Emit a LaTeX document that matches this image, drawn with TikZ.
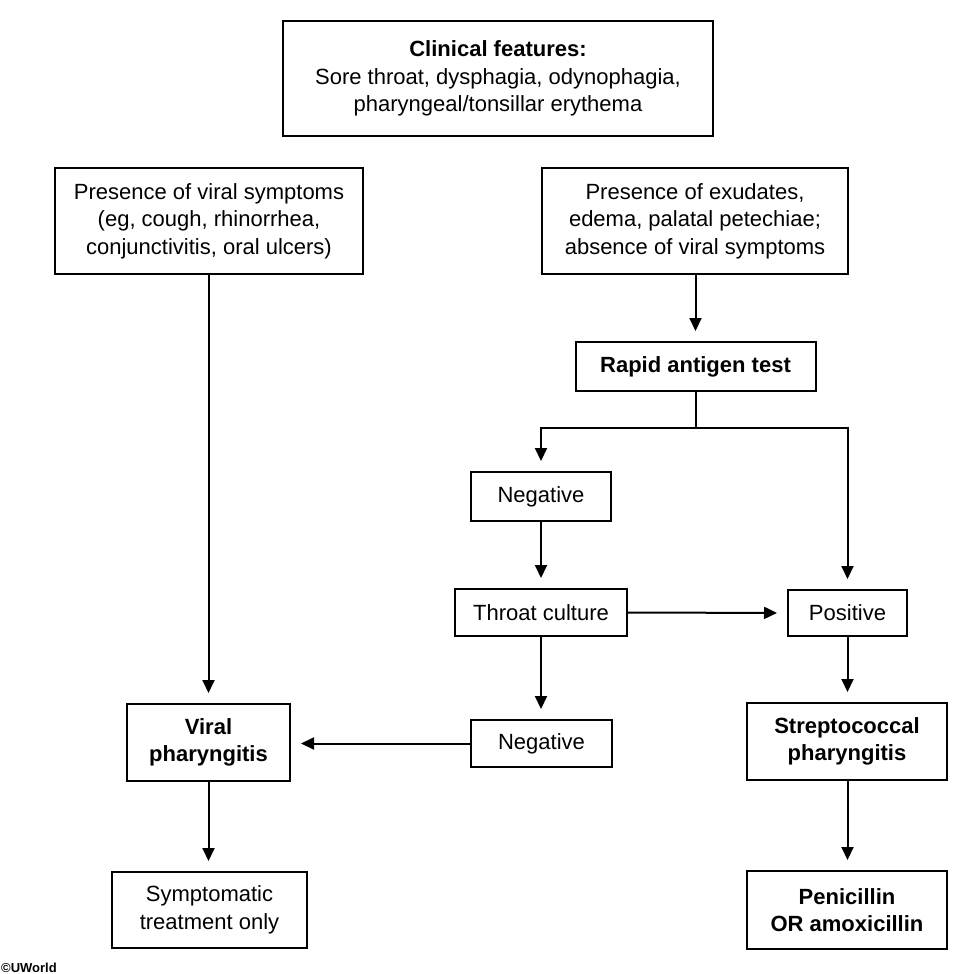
\documentclass[tikz,border=0pt]{standalone}
\usepackage{fontspec}
\setmainfont{Liberation Sans}
\usetikzlibrary{arrows.meta,calc}
\begin{document}
\begin{tikzpicture}[x=1pt,y=-1pt,
 box/.style={draw=black, line width=2pt, align=center, font=\fontsize{22}{27.5}\selectfont, inner sep=0pt},
 conn/.style={line width=2pt, -{Triangle[length=13pt,width=12pt]}, shorten >=10pt},
 plain/.style={line width=2pt}]
\useasboundingbox (0,0) rectangle (975,974);
\fill[white] (0,0) rectangle (975,974);
\node[box, minimum width=430pt, minimum height=115pt] (top) at (498,78.5) {\textbf{Clinical features:}\\Sore throat, dysphagia, odynophagia,\\pharyngeal/tonsillar erythema};
\node[box, minimum width=308pt, minimum height=106pt] (viral) at (209,221) {Presence of viral symptoms\\(eg, cough, rhinorrhea,\\conjunctivitis, oral ulcers)};
\node[box, minimum width=306pt, minimum height=106pt] (exud) at (695,221) {Presence of exudates,\\edema, palatal petechiae;\\absence of viral symptoms};
\node[box, minimum width=240pt, minimum height=49pt] (rapid) at (695.5,366.5) {\textbf{Rapid antigen test}};
\node[box, minimum width=140pt, minimum height=49pt] (neg1) at (541,496.5) {Negative};
\node[box, minimum width=172pt, minimum height=47pt] (throat) at (541,612.5) {Throat culture};
\node[box, minimum width=119pt, minimum height=46pt] (pos) at (847.5,613) {Positive};
\node[box, minimum width=141pt, minimum height=47pt] (neg2) at (541.5,743.5) {Negative};
\node[box, minimum width=163pt, minimum height=77pt] (vph) at (208.5,742.5) {\textbf{Viral}\\\textbf{pharyngitis}};
\node[box, minimum width=200pt, minimum height=77pt] (strep) at (847,741.5) {\textbf{Streptococcal}\\\textbf{pharyngitis}};
\node[box, minimum width=195pt, minimum height=76pt] (sympt) at (209.5,910) {Symptomatic\\treatment only};
\node[box, minimum width=200pt, minimum height=78pt] (pen) at (847,910) {\textbf{Penicillin}\\\textbf{OR amoxicillin}};
\node[anchor=south west, inner sep=0pt, font=\bfseries\fontsize{13}{13}\selectfont] (copy) at (1,973) {\copyright UWorld};
\coordinate (split) at (695.5,428);
\draw[conn] (viral.south -| vph.north) -- (vph.north);
\draw[conn] (exud.south -| rapid.north) -- (rapid.north);
\draw[plain] (rapid.south) -- (split);
\draw[conn] (split) -| (neg1.north);
\draw[conn] (split) -| (pos.north);
\draw[conn] (neg1.south) -- (neg1.south |- throat.north);
\draw[conn] (throat.east) -- (pos.west);
\draw[conn] (throat.south) -- (throat.south |- neg2.north);
\draw[conn] (neg2.west) -- (neg2.west -| vph.east);
\draw[conn] (vph.south) -- (vph.south |- sympt.north);
\draw[conn] (pos.south) -- (pos.south |- strep.north);
\draw[conn] (strep.south -| pos.south) -- (pos.south |- pen.north);
\end{tikzpicture}
\end{document}
